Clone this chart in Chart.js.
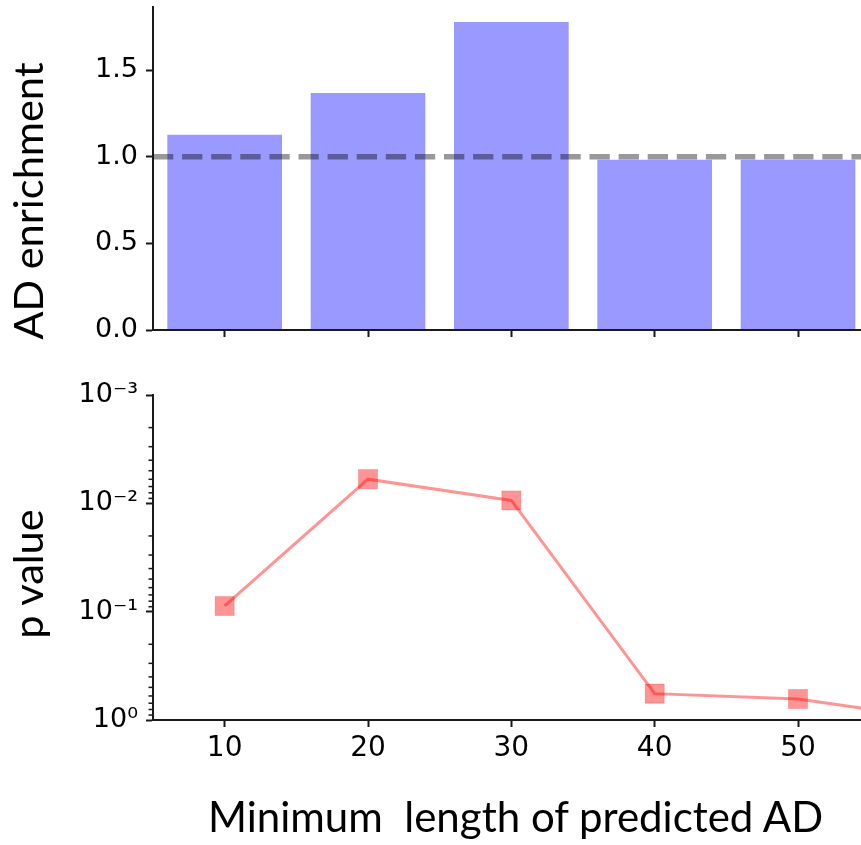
<!DOCTYPE html>
<html>
<head>
<meta charset="utf-8">
<script src="https://cdn.jsdelivr.net/npm/chart.js@4/dist/chart.umd.min.js"></script>
<style>
  html, body { margin: 0; padding: 0; background: #fff; overflow: hidden; }
  #wrap { position: relative; width: 861px; height: 845px; overflow: hidden; background: #fff; }
  canvas { position: absolute; left: 0; }
  #cTop { top: 0; }
  #cBottom { top: 380px; }
  .lbl { position: absolute; font-family: Lato, "Open Sans", sans-serif; color: #000;
         line-height: 1; white-space: pre; }
  .rot { transform: translate(-50%, -50%) rotate(-90deg); }
</style>
</head>
<body>
<div id="wrap">
  <canvas id="cTop" width="1100" height="350"></canvas>
  <canvas id="cBottom" width="1100" height="465"></canvas>
  <div class="lbl rot" style="left:28px; top:201px; font-size:41.5px;">AD enrichment</div>
  <div class="lbl rot" style="left:28px; top:574px; font-size:41.5px;">p value</div>
  <div class="lbl" style="left:208px; top:795px; font-size:42px;">Minimum  length of predicted AD</div>
</div>
<script>
// Minimum predicted AD length (x categories)
const lengths = ['10', '20', '30', '40', '50', '60'];
// AD enrichment per minimum length
const enrichment = [1.127, 1.368, 1.777, 0.983, 0.983, null];
// p value per minimum length
const pValues = [0.0886, 0.00598, 0.0094, 0.571, 0.640, 0.99];
// axis ticks
const enrichTicks = [0, 0.5, 1.0, 1.5];
const pMajorTicks = [1, 0.1, 0.01, 0.001];
// reference level for enrichment
const baseline = 1.0;

const CANVAS_W = 1100;
const PLOT_LEFT = 153;
const PLOT_RIGHT = 1013;
const AXIS = '#1a1a1a';
const TICK_FONT = { family: '"DejaVu Sans"', size: 27, lineHeight: 1 };

// minor log ticks: 2..9 within each decade
const pMinorTicks = [];
pMajorTicks.filter(v => v < 1).forEach(d => {
  for (let k = 2; k <= 9; k++) pMinorTicks.push(d * k);
});

const SUP = { '0': '\u2070', '1': '\u00B9', '2': '\u00B2', '3': '\u00B3', '-': '\u207B' };
function powLabel(v) {
  const e = String(Math.round(Math.log10(v)));
  return '10' + e.split('').map(c => SUP[c]).join('');
}

// keep the plot area exactly where the layout padding puts it
function noEdgePadding(s) {
  s.paddingTop = 0; s.paddingBottom = 0; s.paddingLeft = 0; s.paddingRight = 0;
}

// dashed horizontal reference across the whole plot area
const refLine = {
  id: 'refLine',
  afterDatasetsDraw(chart) {
    const y = chart.scales.y.getPixelForValue(baseline);
    const { left, right } = chart.chartArea;
    const ctx = chart.ctx;
    ctx.save();
    ctx.strokeStyle = 'rgba(0,0,0,0.4)';
    ctx.lineWidth = 5.5;
    ctx.setLineDash([20.3, 8.8]);
    ctx.lineCap = 'butt';
    ctx.beginPath();
    ctx.moveTo(left, y);
    ctx.lineTo(right, y);
    ctx.stroke();
    ctx.restore();
  }
};

// short minor tick marks on the log axis
const minorTicks = {
  id: 'minorTicks',
  afterDraw(chart) {
    const s = chart.scales.y;
    const x0 = chart.chartArea.left;
    const ctx = chart.ctx;
    ctx.save();
    ctx.strokeStyle = AXIS;
    ctx.lineWidth = 1.5;
    pMinorTicks.forEach(v => {
      const y = s.getPixelForValue(v);
      ctx.beginPath();
      ctx.moveTo(x0 - 4.5, y);
      ctx.lineTo(x0, y);
      ctx.stroke();
    });
    ctx.restore();
  }
};

const tickGrid = { drawOnChartArea: false, drawTicks: true, tickLength: 7, tickWidth: 2, tickColor: AXIS, offset: false };
const border = { display: true, color: AXIS, width: 2 };

new Chart(document.getElementById('cTop'), {
  type: 'bar',
  data: {
    labels: lengths,
    datasets: [{
      data: enrichment,
      backgroundColor: 'rgba(0,0,255,0.4)',
      borderWidth: 0,
      barPercentage: 0.8,
      categoryPercentage: 1
    }]
  },
  options: {
    responsive: false,
    animation: false,
    events: [],
    layout: { padding: { left: 0, right: CANVAS_W - PLOT_RIGHT, top: 7, bottom: 0 } },
    plugins: { legend: { display: false }, tooltip: { enabled: false } },
    scales: {
      x: {
        type: 'category',
        offset: true,
        grid: tickGrid,
        border: border,
        ticks: { display: false },
        afterFit(s) { s.height = 20; noEdgePadding(s); }
      },
      y: {
        min: 0,
        max: 1.864,
        afterBuildTicks(s) { s.ticks = enrichTicks.map(v => ({ value: v })); },
        ticks: { callback: v => Number(v).toFixed(1), font: TICK_FONT, color: '#000', padding: 8 },
        grid: tickGrid,
        border: border,
        afterFit(s) { s.width = PLOT_LEFT; noEdgePadding(s); }
      }
    }
  },
  plugins: [refLine]
});

new Chart(document.getElementById('cBottom'), {
  type: 'line',
  data: {
    labels: lengths,
    datasets: [{
      data: pValues,
      borderColor: 'rgba(255,0,0,0.42)',
      borderWidth: 3,
      pointStyle: 'rect',
      pointRadius: 13.5,
      pointBackgroundColor: 'rgba(255,0,0,0.42)',
      pointBorderColor: 'rgba(255,0,0,0.2)',
      pointBorderWidth: 1,
      tension: 0
    }]
  },
  options: {
    responsive: false,
    animation: false,
    events: [],
    layout: { padding: { left: 0, right: CANVAS_W - PLOT_RIGHT, top: 15, bottom: 0 } },
    plugins: { legend: { display: false }, tooltip: { enabled: false } },
    scales: {
      x: {
        type: 'category',
        offset: true,
        grid: tickGrid,
        border: border,
        ticks: { font: { family: '"DejaVu Sans"', size: 28, lineHeight: 1 }, color: '#000', padding: 8, maxRotation: 0, autoSkip: false },
        afterFit(s) { s.height = 125; noEdgePadding(s); }
      },
      y: {
        type: 'logarithmic',
        min: 0.001,
        max: 1,
        reverse: true,
        afterBuildTicks(s) { s.ticks = pMajorTicks.map(v => ({ value: v })); },
        ticks: { callback: v => powLabel(v), font: TICK_FONT, color: '#000', padding: 8 },
        grid: tickGrid,
        border: border,
        afterFit(s) { s.width = PLOT_LEFT; noEdgePadding(s); }
      }
    }
  },
  plugins: [minorTicks]
});
</script>
</body>
</html>
